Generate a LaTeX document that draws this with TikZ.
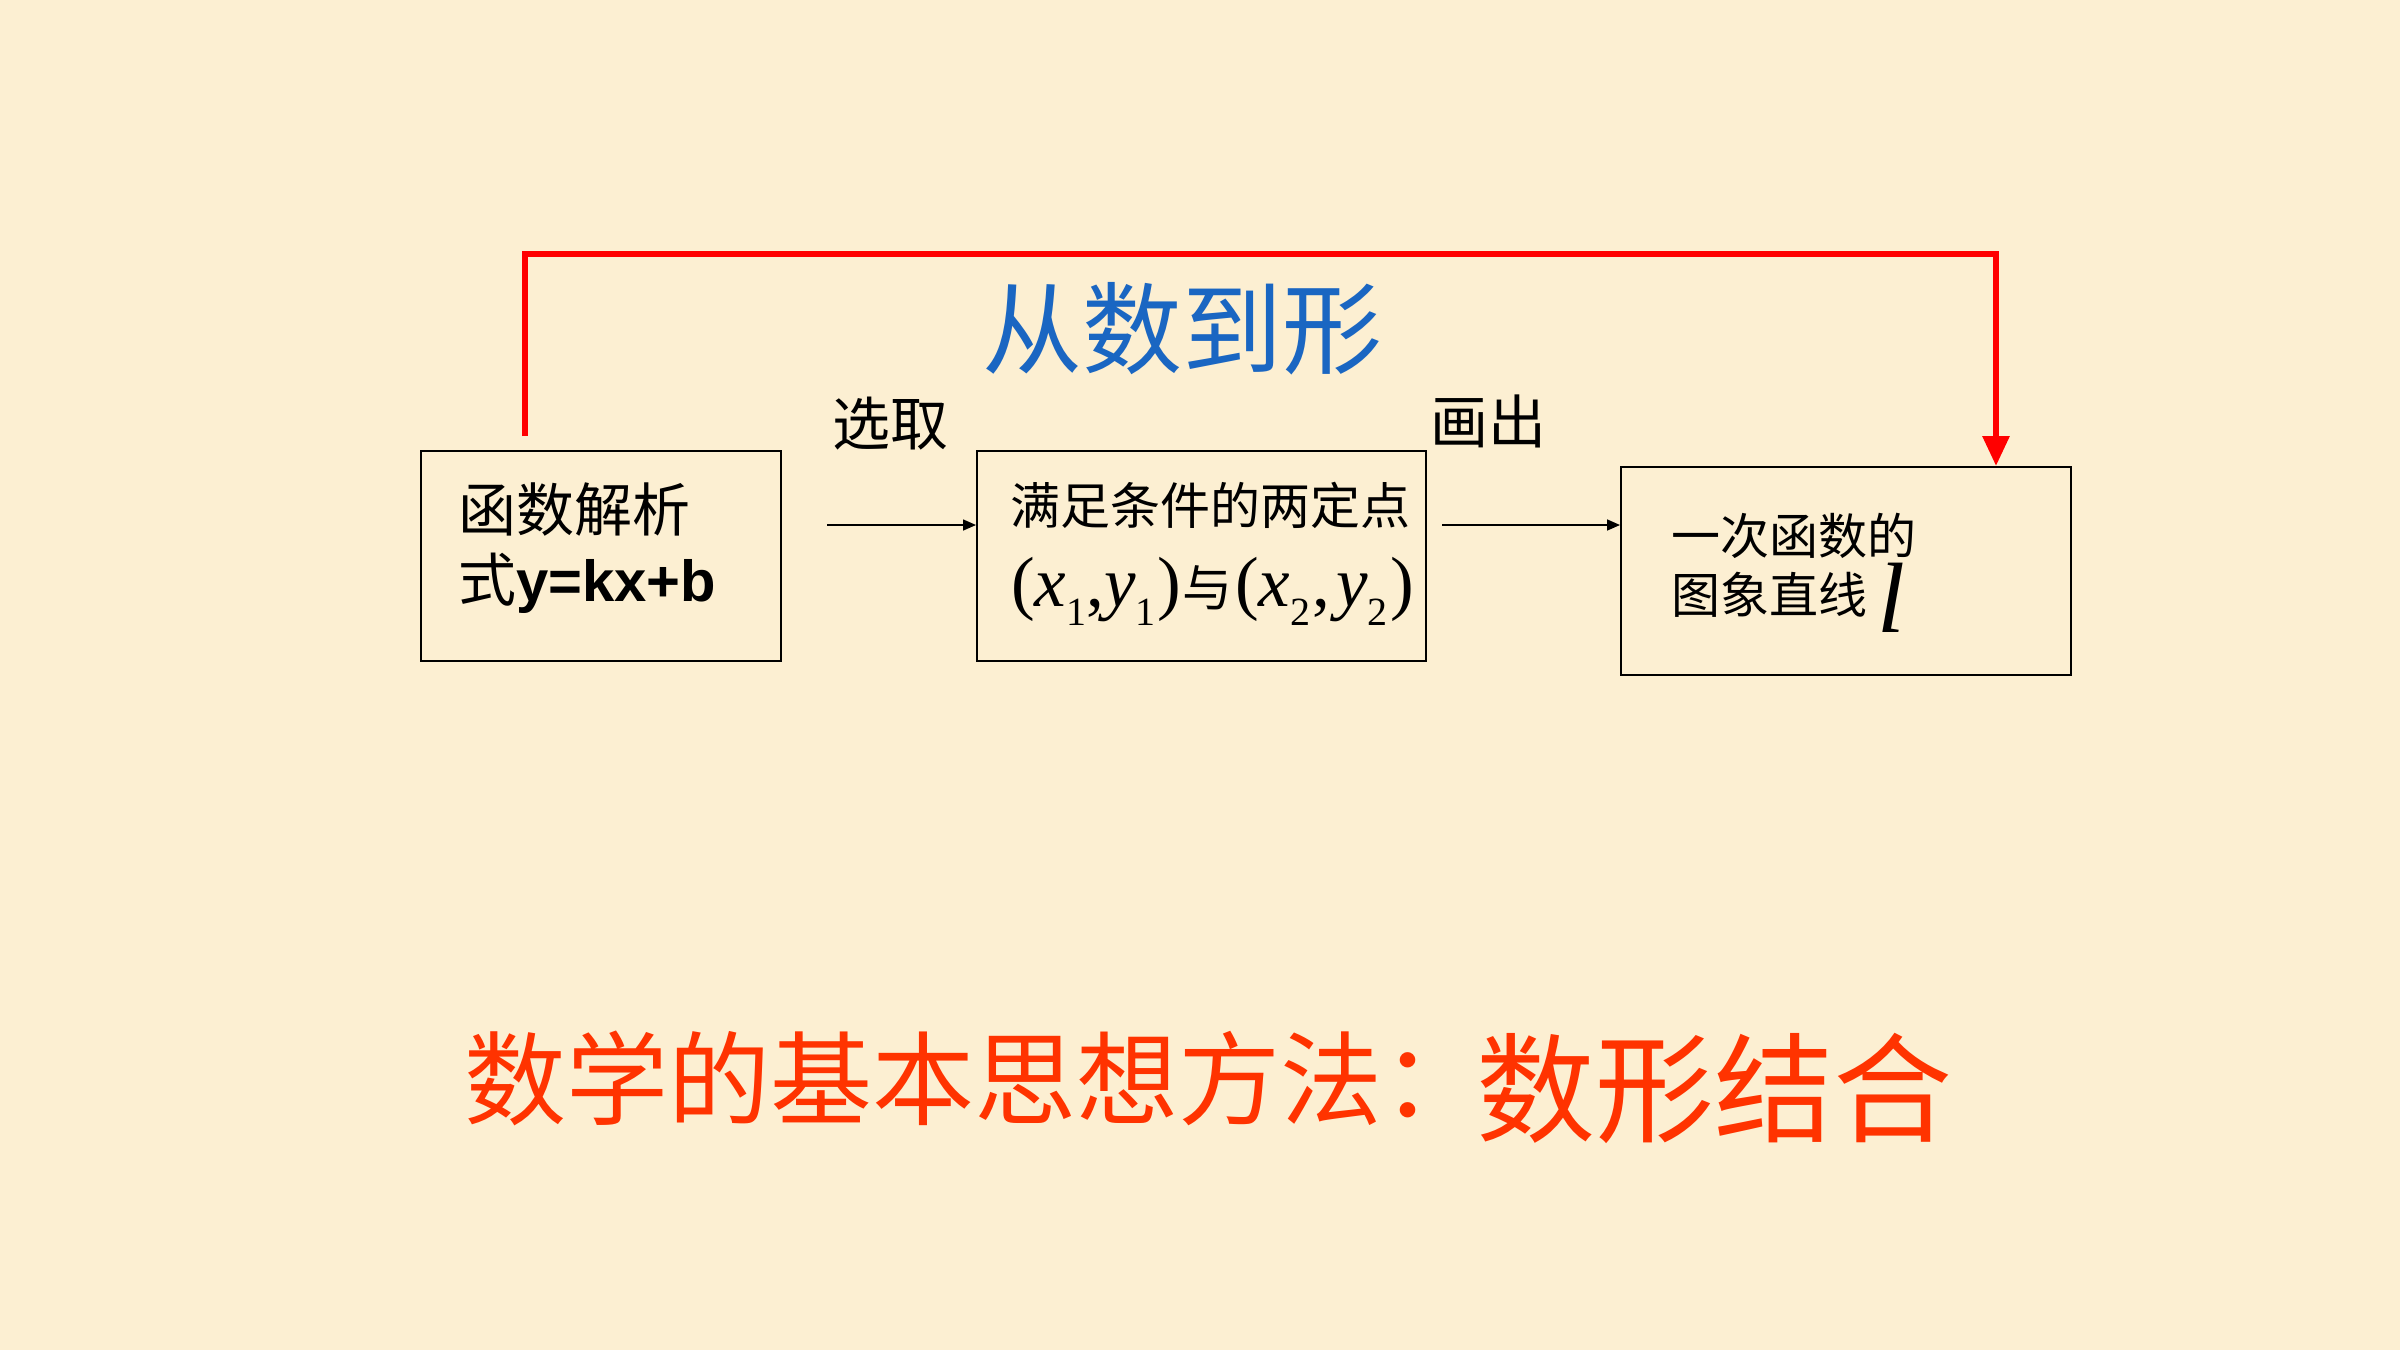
\documentclass[tikz,border=0pt]{standalone}
\usepackage{fontspec}
\usepackage{graphicx}
\setmainfont{Liberation Serif}
\newfontfamily\cjk{Noto Sans CJK SC}
\newfontfamily\arialb{Liberation Sans}[BoldFont={* Bold}]
\usetikzlibrary{arrows.meta}
\definecolor{bgc}{HTML}{FCEFD2}
\definecolor{titleblue}{HTML}{1A66C2}
\definecolor{mainred}{HTML}{FF0000}
\definecolor{bottomred}{HTML}{FF3300}
\newcommand{\fs}[1]{\fontsize{#1}{#1}\selectfont}
\newcommand{\mysub}[1]{\raisebox{-19pt}{\fs{40}#1}}
\begin{document}
\begin{tikzpicture}[x=1pt,y=-1pt,
  boxnode/.style={draw=black, line width=2pt, inner sep=0pt, fill=none},
  txt/.style={inner sep=0pt, anchor=west, text=black},
  thinarrow/.style={draw=black, line width=1.6pt, -{Triangle[length=13pt,width=11pt]}},
  redarrow/.style={draw=mainred, line width=6pt, -{Triangle[length=30pt,width=26pt]}}
]
\fill[bgc] (0,0) rectangle (2400,1350);
\useasboundingbox (0,0) rectangle (2400,1350);

% boxes
\node[boxnode, minimum width=360pt, minimum height=210pt] (b1) at (601,556) {};
\node[boxnode, minimum width=449pt, minimum height=210pt] (b2) at (1201.5,556) {};
\node[boxnode, minimum width=450pt, minimum height=208pt] (b3) at (1846,571) {};

% box 1 text
\node[txt, font=\cjk\fs{58}] (t1a) at (458,510) {函数解析};
\node[txt, font=\cjk\fs{58}] (t1b) at (458,583) {式{\arialb\bfseries y=kx+b}};

% box 2 text
\node[txt, font=\cjk\fs{50}] (t2a) at (1010,505) {满足条件的两定点};
\node[txt, anchor=base west, font=\fs{71}] (t2b) at (1011,606) {(\textit{x}\mysub{1},\textit{y}\mysub{1}\hspace{2pt})\hspace{1pt}{\cjk\fs{50}与}\hspace{3pt}(\textit{x}\mysub{2}\hspace{2pt},\hspace{6pt}\textit{y}\mysub{2}\hspace{3pt})};

% box 3 text
\node[txt, font=\cjk\fs{49}] (t3a) at (1671,536) {一次函数的};
\node[txt, font=\cjk\fs{49}] (t3b) at (1671,595) {图象直线};
\node[inner sep=0pt, font=\fs{100}\itshape] (t3l) at (1891,598) {l};

% labels
\node[inner sep=0pt, font=\cjk\fs{58}] (lb1) at (890,424) {选取};
\node[inner sep=0pt, font=\cjk\fs{58}] (lb2) at (1488,421) {画出};
\node[inner sep=0pt, font=\cjk\fs{100}, text=titleblue] (title) at (1182,329) {从数到形};
\node[txt, font=\cjk\fs{102}, text=bottomred] (bottomA) at (464,1078) {数学的基本思想方法：};
\node[txt, font=\cjk\fs{119}, text=bottomred] (bottomB) at (1476,1088) {数形结合};

% connectors
\coordinate (a1s) at (827,525);
\coordinate (a2s) at (1442,525);
\draw[thinarrow] (a1s) -- (a1s -| b2.west);
\draw[thinarrow] (a2s) -- (a2s -| b3.west);

\coordinate (r0) at (525,436);
\coordinate (rc) at (1996,254);
\draw[redarrow, line join=miter] (r0) |- (rc) -- (rc |- b3.north);
\end{tikzpicture}
\end{document}
